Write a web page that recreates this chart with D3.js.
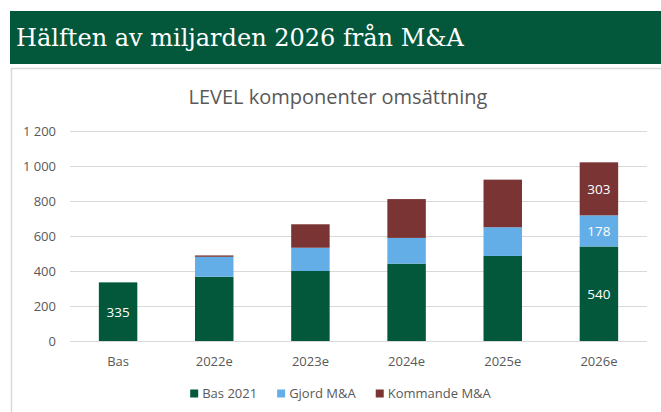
<!DOCTYPE html>
<html>
<head>
<meta charset="utf-8">
<script src="https://cdn.jsdelivr.net/npm/d3@7"></script>
<style>
  body { margin: 0; background: #fff; }
  svg { display: block; }
</style>
</head>
<body>
<div id="chart"></div>
<script>
var categories = ["Bas", "2022e", "2023e", "2024e", "2025e", "2026e"];
var seriesNames = ["Bas 2021", "Gjord M&A", "Kommande M&A"];
var bas2021 = [335, 367, 400, 442, 486, 540];
var gjordMA = [0, 114, 133, 147, 164, 178];
var kommandeMA = [0, 8, 134, 222, 272, 303];
var yTicks = [0, 200, 400, 600, 800, 1000, 1200];
var labelledCats = ["Bas", "2026e"];

var colors = ["#03573b", "#63aee6", "#7a3434"];
var width = 661, height = 412;
var font = "'Open Sans', sans-serif";

var rows = categories.map(function(c, i) {
  return { cat: c, "Bas 2021": bas2021[i], "Gjord M&A": gjordMA[i], "Kommande M&A": kommandeMA[i] };
});

var svg = d3.select("#chart").append("svg")
    .attr("width", width)
    .attr("height", height);

// header band
svg.append("rect")
    .attr("x", 10).attr("y", 11)
    .attr("width", width - 10).attr("height", 53)
    .attr("fill", "#03573b");
svg.append("text")
    .attr("x", 16).attr("y", 45.5)
    .attr("fill", "#fff")
    .style("font-family", "'DejaVu Serif', serif")
    .style("font-size", "24px")
    .text("Hälften av miljarden 2026 från M&A");

// chart box border
svg.append("path")
    .attr("d", "M11.5," + height + "V68.5H" + width)
    .attr("fill", "none")
    .attr("stroke", "#d9d9d9")
    .attr("stroke-width", 1.5);

svg.append("text")
    .attr("x", 338).attr("y", 104)
    .attr("text-anchor", "middle")
    .attr("fill", "#595959")
    .style("font-family", font)
    .style("font-size", "20px")
    .text("LEVEL komponenter omsättning");

var x = d3.scaleBand()
    .domain(categories)
    .range([70, 647])
    .paddingInner(0.6)
    .paddingOuter(0.3);

var y = d3.scaleLinear()
    .domain([0, 1200])
    .range([341, 131]);

// gridlines
svg.append("g")
  .selectAll("line")
  .data(yTicks)
  .enter().append("line")
    .attr("x1", 70).attr("x2", 647)
    .attr("y1", function(d) { return Math.round(y(d)) + 0.5; })
    .attr("y2", function(d) { return Math.round(y(d)) + 0.5; })
    .attr("stroke", "#d9d9d9");

// y axis
var yAxis = svg.append("g")
    .attr("transform", "translate(59,0)")
    .call(d3.axisLeft(y).tickValues(yTicks).tickSize(0)
      .tickFormat(function(d) { return d3.format(",")(d).replace(",", " "); }));
yAxis.select(".domain").remove();
yAxis.selectAll("text")
    .attr("fill", "#595959")
    .style("font-family", font)
    .style("font-size", "13px");

// x axis
var xAxis = svg.append("g")
    .attr("transform", "translate(0,341)")
    .call(d3.axisBottom(x).tickSize(0).tickPadding(16));
xAxis.select(".domain").remove();
xAxis.selectAll("text")
    .attr("fill", "#595959")
    .style("font-family", font)
    .style("font-size", "13px");

var stack = d3.stack().keys(seriesNames);
var stacked = stack(rows);

var layers = svg.append("g")
  .selectAll("g")
  .data(stacked)
  .enter().append("g")
    .attr("fill", function(d, i) { return colors[i]; });

layers.selectAll("rect")
  .data(function(d) { return d; })
  .enter().append("rect")
    .attr("x", function(d) { return x(d.data.cat); })
    .attr("y", function(d) { return y(d[1]); })
    .attr("width", x.bandwidth())
    .attr("height", function(d) { return y(d[0]) - y(d[1]); });

// data labels
layers.selectAll("text")
  .data(function(d) { return d.filter(function(p) { return labelledCats.indexOf(p.data.cat) >= 0 && p[1] - p[0] > 0; }); })
  .enter().append("text")
    .attr("x", function(d) { return x(d.data.cat) + x.bandwidth() / 2; })
    .attr("y", function(d) { return (y(d[0]) + y(d[1])) / 2; })
    .attr("dy", "0.36em")
    .attr("text-anchor", "middle")
    .attr("fill", "#fff")
    .style("font-family", font)
    .style("font-size", "13.5px")
    .text(function(d) { return d[1] - d[0]; });

// legend
var legend = svg.append("g").attr("transform", "translate(0,398)");
var items = legend.selectAll("g")
  .data(seriesNames)
  .enter().append("g");
items.append("rect")
    .attr("y", -8.5).attr("width", 8).attr("height", 8)
    .attr("fill", function(d, i) { return colors[i]; });
items.append("text")
    .attr("x", 12)
    .attr("fill", "#595959")
    .style("font-family", font)
    .style("font-size", "13px")
    .text(function(d) { return d; });

var offsets = [], pos = 0;
items.each(function() {
  offsets.push(pos);
  pos += 12 + d3.select(this).select("text").node().getComputedTextLength() + 20;
});
var total = pos - 20;
var start = 340.5 - total / 2;
items.attr("transform", function(d, i) { return "translate(" + (start + offsets[i]) + ",0)"; });
</script>
</body>
</html>
